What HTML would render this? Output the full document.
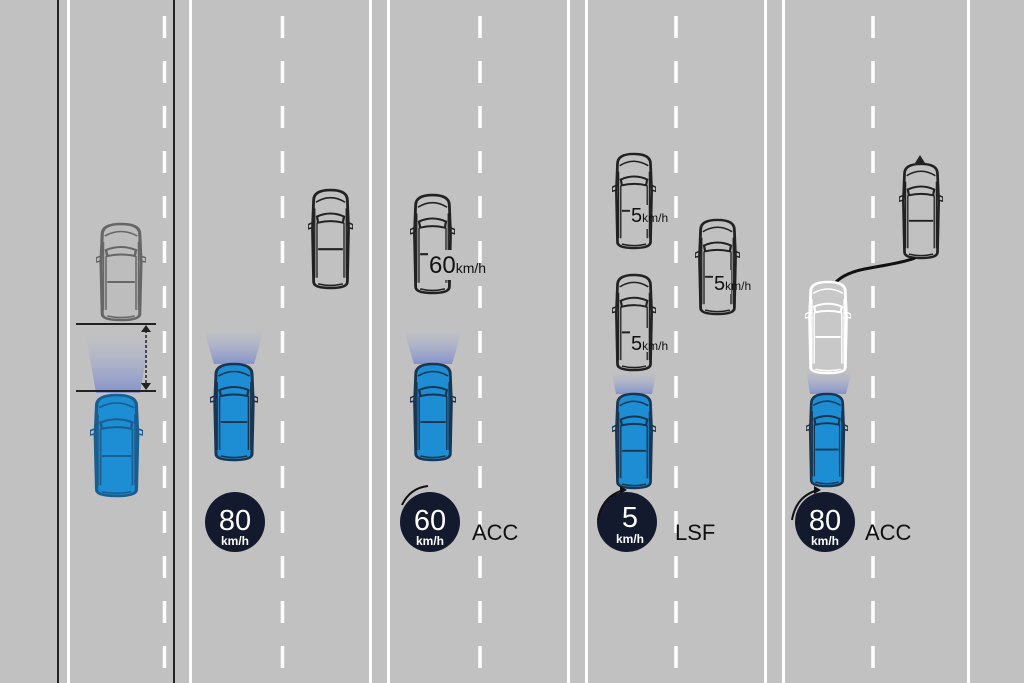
<!DOCTYPE html>
<html><head><meta charset="utf-8"><style>
html,body{margin:0;padding:0;background:#c1c1c1;}
svg{display:block}
text{font-family:"Liberation Sans","DejaVu Sans",sans-serif;}
</style></head><body>
<svg width="1024" height="683" viewBox="0 0 1024 683" xmlns="http://www.w3.org/2000/svg">
<defs>
<symbol id="car" viewBox="0 0 40 100" preserveAspectRatio="none">
  <path d="M5 12 Q5 2 20 2 Q35 2 35 12 L36 40 L35 92 Q35 98 20 98 Q5 98 5 92 L4 40 Z" stroke="currentColor" stroke-width="2.5"/>
  <path d="M7 14 Q20 5 33 14" fill="none" stroke="currentColor" stroke-width="1.5"/>
  <path d="M8 28 Q20 22 32 28 L31 34 Q20 31 9 34 Z" fill="none" stroke="currentColor" stroke-width="2"/>
  <path d="M8 34 L8 88 M32 34 L32 88 M6 20 L6 88 M34 20 L34 88" fill="none" stroke="currentColor" stroke-width="1.2"/>
  <path d="M9 60 L31 60" stroke="currentColor" stroke-width="2"/>
  <path d="M4 34 L0 36 L0 40 L4 39 M36 34 L40 36 L40 40 L36 39" fill="none" stroke="currentColor" stroke-width="1.5"/>
  <path d="M9 94 Q20 97 31 94" fill="none" stroke="currentColor" stroke-width="1.5"/>
</symbol>
<linearGradient id="beam" x1="0" y1="1" x2="0" y2="0">
  <stop offset="0" stop-color="#6b7fd0" stop-opacity="0.7"/>
  <stop offset="1" stop-color="#9aa6d8" stop-opacity="0"/>
</linearGradient>
</defs>

<rect width="1024" height="683" fill="#c1c1c1"/>
<rect x="57" y="0" width="2" height="683" fill="#222"/>
<rect x="67" y="0" width="3" height="683" fill="#fff"/>
<rect x="173" y="0" width="2" height="683" fill="#222"/>
<rect x="189" y="0" width="3" height="683" fill="#fff"/>
<rect x="369" y="0" width="3" height="683" fill="#fff"/>
<rect x="387" y="0" width="3" height="683" fill="#fff"/>
<rect x="567" y="0" width="3" height="683" fill="#fff"/>
<rect x="585" y="0" width="3" height="683" fill="#fff"/>
<rect x="764" y="0" width="3" height="683" fill="#fff"/>
<rect x="782" y="0" width="3" height="683" fill="#fff"/>
<rect x="967" y="0" width="3" height="683" fill="#fff"/>
<g stroke="#fff" stroke-width="3.5" stroke-dasharray="22,23">
<line x1="164.5" y1="16" x2="164.5" y2="683"/>
<line x1="282.5" y1="16" x2="282.5" y2="683"/>
<line x1="480" y1="16" x2="480" y2="683"/>
<line x1="676" y1="16" x2="676" y2="683"/>
<line x1="873" y1="16" x2="873" y2="683"/>
</g>

<path d="M86 336 L150 336 L140 393 L96 393 Z" fill="url(#beam)"/>
<path d="M204 330 L264 330 L254 364 L214 364 Z" fill="url(#beam)"/>
<path d="M404 330 L462 330 L452 364 L414 364 Z" fill="url(#beam)"/>
<path d="M612 372 L656 372 L652 394 L616 394 Z" fill="url(#beam)"/>
<path d="M806 370 L852 370 L846 394 L810 394 Z" fill="url(#beam)"/>

<use href="#car" x="96" y="222" width="50" height="100" fill="#bdbdbd" color="#666"/>
<use href="#car" x="90" y="393" width="53" height="105" fill="#1d8ed3" color="#1a5e90"/>
<line x1="76" y1="324" x2="156" y2="324" stroke="#222" stroke-width="2"/>
<line x1="76" y1="391" x2="156" y2="391" stroke="#222" stroke-width="2"/>
<line x1="146" y1="330" x2="146" y2="385" stroke="#222" stroke-width="1.5" stroke-dasharray="3,2"/>
<path d="M141 332 L146 325 L151 332 Z M141 383 L146 390 L151 383 Z" fill="#222"/>

<use href="#car" x="308" y="188" width="45" height="102" fill="#c1c1c1" color="#222"/>
<use href="#car" x="210" y="362" width="48" height="100" fill="#1d8ed3" color="#1a3550"/>
<circle cx="235" cy="522" r="30" fill="#141a2e"/>
<text x="235" y="530" font-size="29" fill="#fff" text-anchor="middle">80</text>
<text x="235" y="545" font-size="12" fill="#fff" text-anchor="middle" font-weight="bold">km/h</text>

<use href="#car" x="410" y="193" width="45" height="102" fill="#c1c1c1" color="#222"/>
<rect x="428" y="250" width="24" height="30" fill="#c1c1c1"/>
<text x="429" y="273" font-size="24" fill="#111">60<tspan font-size="14">km/h</tspan></text>
<use href="#car" x="410" y="362" width="46" height="100" fill="#1d8ed3" color="#1a3550"/>
<circle cx="430" cy="522" r="30" fill="#141a2e"/>
<path d="M402 505 Q410 488 428 486" fill="none" stroke="#111" stroke-width="2"/>
<text x="430" y="530" font-size="29" fill="#fff" text-anchor="middle">60</text>
<text x="430" y="545" font-size="12" fill="#fff" text-anchor="middle" font-weight="bold">km/h</text>
<text x="472" y="540" font-size="22" fill="#111">ACC</text>

<use href="#car" x="612" y="152" width="44" height="98" fill="#c1c1c1" color="#222"/>
<rect x="630" y="205" width="18" height="24" fill="#c1c1c1"/>
<text x="631" y="222" font-size="20" fill="#111">5<tspan font-size="12">km/h</tspan></text>
<use href="#car" x="695" y="218" width="45" height="98" fill="#c1c1c1" color="#222"/>
<rect x="713" y="270" width="18" height="24" fill="#c1c1c1"/>
<text x="714" y="290" font-size="20" fill="#111">5<tspan font-size="12">km/h</tspan></text>
<use href="#car" x="612" y="273" width="44" height="99" fill="#c1c1c1" color="#222"/>
<rect x="630" y="328" width="18" height="24" fill="#c1c1c1"/>
<text x="631" y="350" font-size="20" fill="#111">5<tspan font-size="12">km/h</tspan></text>
<use href="#car" x="612" y="392" width="44" height="98" fill="#1d8ed3" color="#1a3550"/>
<circle cx="627" cy="522" r="30" fill="#141a2e"/>
<path d="M598 520 Q602 496 624 490" fill="none" stroke="#111" stroke-width="2"/>
<path d="M620 486 L627 490 L620 494 Z" fill="#111"/>
<text x="630" y="527" font-size="29" fill="#fff" text-anchor="middle">5</text>
<text x="630" y="543" font-size="12" fill="#fff" text-anchor="middle" font-weight="bold">km/h</text>
<text x="675" y="540" font-size="22" fill="#111">LSF</text>

<path d="M920 155 L915 163 L925 163 Z" fill="#222"/>
<use href="#car" x="899" y="162" width="44" height="98" fill="#c1c1c1" color="#222"/>
<path d="M835 283 Q845 272 870 268 Q905 262 915 258" fill="none" stroke="#111" stroke-width="3"/>
<use href="#car" x="805" y="280" width="46" height="95" fill="#c8c8c8" color="#fff"/>
<use href="#car" x="806" y="392" width="42" height="96" fill="#1d8ed3" color="#1a3550"/>
<circle cx="825" cy="522" r="30" fill="#141a2e"/>
<path d="M792 520 Q796 496 818 490" fill="none" stroke="#111" stroke-width="2"/>
<path d="M814 486 L821 490 L814 494 Z" fill="#111"/>
<text x="825" y="530" font-size="29" fill="#fff" text-anchor="middle">80</text>
<text x="825" y="545" font-size="12" fill="#fff" text-anchor="middle" font-weight="bold">km/h</text>
<text x="865" y="540" font-size="22" fill="#111">ACC</text>
</svg>
</body></html>
